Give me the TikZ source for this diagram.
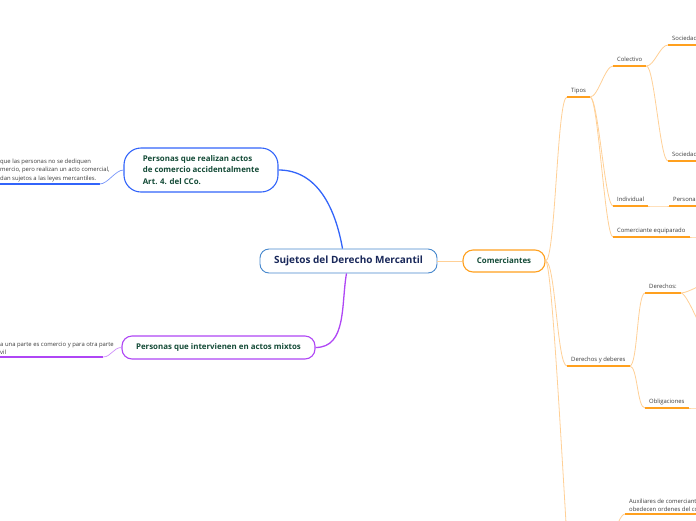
\documentclass[tikz,border=0pt]{standalone}
\usepackage{fontspec}
\setmainfont{Open Sans}
\usepackage{tikz}
\usetikzlibrary{positioning}

\definecolor{rootline}{RGB}{70,135,205}
\definecolor{roottext}{RGB}{25,40,90}
\definecolor{maintext}{RGB}{20,75,55}
\definecolor{leaftext}{RGB}{60,60,60}
\definecolor{blueline}{RGB}{50,100,250}
\definecolor{bluelight}{RGB}{120,150,250}
\definecolor{mixline}{RGB}{175,70,245}
\definecolor{mixlight}{RGB}{205,140,250}
\definecolor{orangeline}{RGB}{255,160,30}
\definecolor{orangelight}{RGB}{255,208,150}

\tikzstyle{rootbox} = [rectangle, rounded corners=9pt, minimum width=177pt, minimum height=24pt, draw=rootline, line width=0.9pt, fill=white, text=roottext, font=\bfseries\fontsize{10}{12}\selectfont]
\tikzstyle{branch}  = [rectangle, line width=1.1pt, fill=white, text=maintext, font=\bfseries\fontsize{7.9}{11.5}\selectfont]
\tikzstyle{leaf}    = [anchor=south west, inner xsep=4pt, inner ysep=3pt, text depth=1.5pt, text=leaftext, font=\fontsize{5.9}{8}\selectfont]
\tikzstyle{note}    = [anchor=south west, align=left, inner xsep=4pt, inner ysep=2pt, text=leaftext, font=\fontsize{5.9}{8.5}\selectfont]
\tikzstyle{uline}   = [line width=1.5pt, draw=orangeline]
\tikzstyle{link}    = [line width=0.8pt, draw=orangelight, out=0, in=180, distance=8pt]

\begin{document}
\begin{tikzpicture}[x=1pt, y=-1pt]

    \useasboundingbox (0,0) rectangle (696,520);
    \clip (0,0) rectangle (696,520);

    \node (root)   [rootbox] at (348.5,261) {Sujetos del Derecho Mercantil};
    \node (persa)  [branch, draw=blueline, rounded corners=17pt, minimum width=154pt, minimum height=44pt, align=left] at (201,170) {Personas que realizan actos\\de comercio accidentalmente\\Art. 4. del CCo.};
    \node (persb)  [branch, draw=mixline, rounded corners=10pt, minimum width=193pt, minimum height=23pt] at (218.5,347.5) {Personas que intervienen en actos mixtos};
    \node (comer)  [branch, draw=orangeline, rounded corners=10pt, minimum width=82pt, minimum height=22pt] at (504,261) {Comerciantes};

    \node (notea)  [note] at (-4,184) {que las personas no se dediquen\\mercio, pero realizan un acto comercial,\\dan sujetos a las leyes mercantiles.};
    \node (noteb)  [note] at (-4,357) {a una parte es comercio y para otra parte\\vil};

    \node (tipos)   [leaf] at (567,97)  {Tipos};
    \node (colect)  [leaf] at (613,66)  {Colectivo};
    \node (socia)   [leaf] at (668,45)  {Sociedades};
    \node (socib)   [leaf] at (668,161) {Sociedades};
    \node (indiv)   [leaf] at (613,206) {Individual};
    \node (persona) [leaf] at (669,206) {Personas};
    \node (equip)   [leaf] at (613,237) {Comerciante equiparado};
    \node (derdeb)  [leaf] at (567,366) {Derechos y deberes};
    \node (derech)  [leaf] at (645,293) {Derechos:};
    \node (oblig)   [leaf] at (645,408) {Obligaciones};
    \node (aux)     [note] at (625,514) {Auxiliares de comerciantes\\obedecen ordenes del comerciante};

    \coordinate (comdown)  at (585,760);
    \coordinate (equipout) at (730,237);
    \coordinate (obligout) at (730,408);
    \coordinate (derup)    at (720,278);
    \coordinate (derdown)  at (720,360);
    \coordinate (auxin)    at (600,560);

    % main branches
    \draw [blueline, line width=1.3pt] (persa.east) to[out=0, in=100] ([xshift=-6pt]root.north);
    \draw [mixline, line width=1.3pt] (persb.east) to[out=0, in=-100] ([xshift=-2pt]root.south);
    \draw [link] (root.east) -- (comer.west);

    % left notes
    \draw [blueline, line width=1.8pt] (notea.south west) -- ([xshift=-14pt]notea.south east);
    \draw [bluelight, line width=0.7pt, out=0, in=180, distance=8pt] ([xshift=-14pt]notea.south east) to (persa.west);
    \draw [mixline, line width=1.8pt] (noteb.south west) -- ([xshift=-15pt]noteb.south east);
    \draw [mixlight, line width=0.7pt, out=0, in=180, distance=8pt] ([xshift=-15pt]noteb.south east) to (persb.west);

    % comerciantes
    \draw [link, distance=10pt] (comer.east) to (tipos.south west);
    \draw [link, distance=10pt] (comer.east) to (derdeb.south west);
    \draw [link, distance=10pt] (comer.east) to (comdown);
    \draw [link] (tipos.south east) to (colect.south west);
    \draw [link] (tipos.south east) to (indiv.south west);
    \draw [link] (tipos.south east) to (equip.south west);
    \draw [link] (colect.south east) to (socia.south west);
    \draw [link] (colect.south east) to (socib.south west);
    \draw [link] (indiv.south east) to (persona.south west);
    \draw [link] (equip.south east) to (equipout);
    \draw [link] (derdeb.south east) to (derech.south west);
    \draw [link] (derdeb.south east) to (oblig.south west);
    \draw [link] (derech.south east) to (derup);
    \draw [link] (derech.south east) to (derdown);
    \draw [link] (oblig.south east) to (obligout);
    \draw [link] (auxin) to (aux.south west);

    \draw [uline] (tipos.south west) -- (tipos.south east);
    \draw [uline] (colect.south west) -- (colect.south east);
    \draw [uline] (socia.south west) -- (socia.south east);
    \draw [uline] (socib.south west) -- (socib.south east);
    \draw [uline] (indiv.south west) -- (indiv.south east);
    \draw [uline] (persona.south west) -- (persona.south east);
    \draw [uline] (equip.south west) -- (equip.south east);
    \draw [uline] (derdeb.south west) -- (derdeb.south east);
    \draw [uline] (derech.south west) -- (derech.south east);
    \draw [uline] (oblig.south west) -- (oblig.south east);
    \draw [uline] (aux.south west) -- (aux.south east);

\end{tikzpicture}
\end{document}
